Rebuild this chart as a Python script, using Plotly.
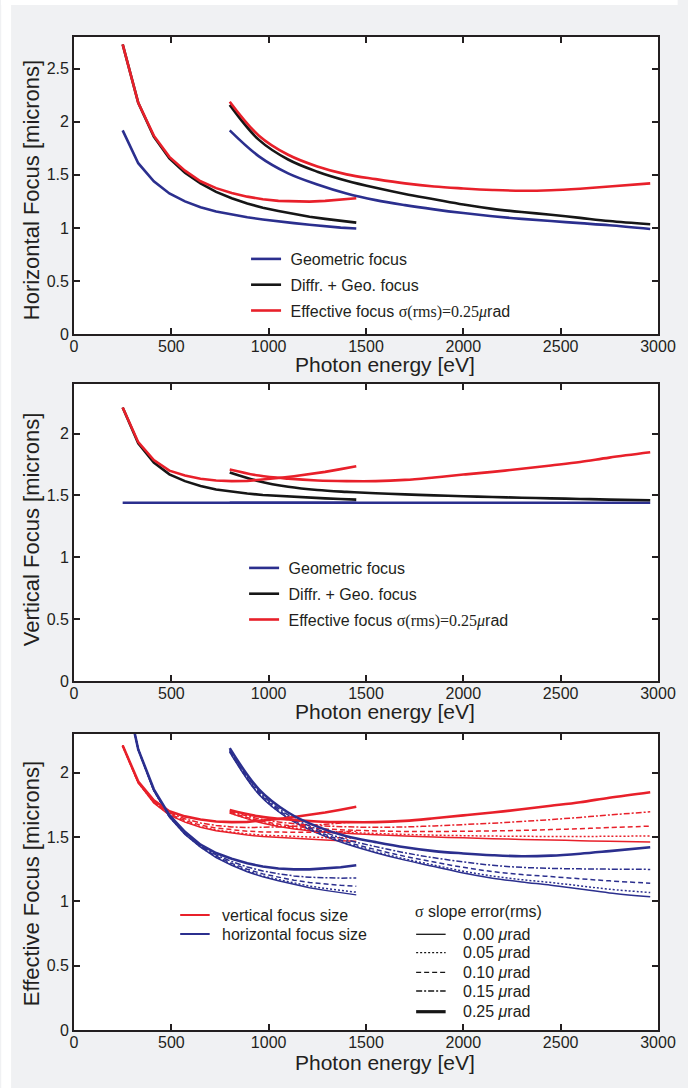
import plotly.graph_objects as go

# ---------------- data ----------------
E_A = [250, 330, 410, 490, 570, 650, 730, 810, 890, 970, 1050, 1130, 1210, 1290, 1370, 1450]
E_B = [800, 950, 1100, 1250, 1400, 1550, 1700, 1850, 2000, 2150, 2300, 2450, 2600, 2750, 2960]

# Horizontal focus [microns]
h_geo_A = [1.92, 1.61, 1.44, 1.325, 1.25, 1.195, 1.155, 1.125, 1.10, 1.08, 1.06, 1.045, 1.03, 1.015, 1.003, 0.995]
h_dg_A = [2.73, 2.18, 1.86, 1.655, 1.52, 1.42, 1.34, 1.28, 1.23, 1.19, 1.16, 1.13, 1.105, 1.085, 1.067, 1.05]
h_eff_A = [2.73, 2.18, 1.87, 1.67, 1.54, 1.44, 1.375, 1.33, 1.295, 1.27, 1.255, 1.248, 1.248, 1.255, 1.265, 1.28]
h_geo_B = [1.92, 1.675, 1.515, 1.41, 1.325, 1.262, 1.215, 1.175, 1.14, 1.11, 1.085, 1.065, 1.045, 1.025, 0.99]
h_dg_B = [2.16, 1.83, 1.645, 1.53, 1.445, 1.378, 1.32, 1.27, 1.22, 1.18, 1.15, 1.125, 1.095, 1.065, 1.035]
h_eff_B = [2.19, 1.87, 1.69, 1.58, 1.505, 1.46, 1.42, 1.39, 1.372, 1.358, 1.35, 1.355, 1.37, 1.39, 1.42]

# Vertical focus [microns]
v_geo_A = [1.44] * 16
v_dg_A = [2.21, 1.92, 1.765, 1.67, 1.615, 1.575, 1.548, 1.53, 1.515, 1.503, 1.495, 1.488, 1.481, 1.476, 1.471, 1.466]
v_eff_A = [2.21, 1.93, 1.785, 1.70, 1.66, 1.635, 1.62, 1.615, 1.617, 1.627, 1.64, 1.655, 1.67, 1.69, 1.712, 1.735]
v_geo_B = [1.44] * 15
v_dg_B = [1.685, 1.615, 1.57, 1.543, 1.528, 1.517, 1.508, 1.50, 1.493, 1.487, 1.481, 1.476, 1.471, 1.466, 1.46]
v_eff_B = [1.71, 1.66, 1.635, 1.62, 1.615, 1.615, 1.625, 1.645, 1.668, 1.69, 1.715, 1.742, 1.77, 1.805, 1.848]

# Effective focus for intermediate slope errors (0.05, 0.10, 0.15 urad)
h_s005_A = [2.73, 2.18, 1.861, 1.656, 1.522, 1.422, 1.343, 1.285, 1.236, 1.197, 1.169, 1.141, 1.118, 1.10, 1.085, 1.071]
h_s010_A = [2.73, 2.18, 1.863, 1.659, 1.526, 1.426, 1.350, 1.295, 1.249, 1.213, 1.188, 1.164, 1.146, 1.134, 1.124, 1.117]
h_s015_A = [2.73, 2.18, 1.866, 1.664, 1.531, 1.431, 1.36, 1.309, 1.267, 1.236, 1.214, 1.197, 1.187, 1.182, 1.18, 1.181]
h_s005_B = [2.163, 1.834, 1.649, 1.535, 1.450, 1.385, 1.329, 1.281, 1.234, 1.196, 1.168, 1.146, 1.120, 1.094, 1.068]
h_s010_B = [2.169, 1.842, 1.658, 1.545, 1.462, 1.402, 1.349, 1.305, 1.264, 1.231, 1.208, 1.192, 1.175, 1.159, 1.14]
h_s015_B = [2.177, 1.853, 1.671, 1.559, 1.479, 1.425, 1.377, 1.338, 1.306, 1.28, 1.264, 1.256, 1.252, 1.25, 1.248]
v_s005_A = [2.21, 1.921, 1.767, 1.673, 1.619, 1.580, 1.554, 1.538, 1.524, 1.514, 1.508, 1.503, 1.498, 1.495, 1.493, 1.490]
v_s010_A = [2.21, 1.923, 1.771, 1.679, 1.628, 1.592, 1.569, 1.555, 1.545, 1.539, 1.537, 1.536, 1.536, 1.538, 1.541, 1.544]
v_s015_A = [2.21, 1.926, 1.776, 1.687, 1.641, 1.609, 1.589, 1.578, 1.573, 1.574, 1.578, 1.583, 1.589, 1.598, 1.608, 1.619]
v_s005_B = [1.687, 1.619, 1.576, 1.550, 1.536, 1.527, 1.520, 1.514, 1.510, 1.507, 1.505, 1.504, 1.504, 1.505, 1.508]
v_s010_B = [1.692, 1.628, 1.589, 1.566, 1.554, 1.547, 1.543, 1.543, 1.544, 1.547, 1.551, 1.557, 1.564, 1.573, 1.584]
v_s015_B = [1.699, 1.641, 1.608, 1.589, 1.579, 1.575, 1.578, 1.586, 1.596, 1.607, 1.620, 1.635, 1.652, 1.671, 1.695]

x_ticks = [0, 500, 1000, 1500, 2000, 2500, 3000]
slope_labels = ["0.00", "0.05", "0.10", "0.15", "0.25"]

# ---------------- style ----------------
RED = "#e8202a"
BLUE = "#2b2f8e"
BLACK = "#161616"
TXT = "#231f20"
FONT = "Liberation Sans, Arial, sans-serif"
W, H = 688, 1088
ML, MR, MT, MB = 74, 20, 37, 58
PW = W - ML - MR
PH = H - MT - MB


def px(x):
    return (x - ML) / PW


def py(y):
    return (H - MB - y) / PH


fig = go.Figure()

main_w = 2.6
thin_w = 1.5
SIG = "<span style=\"font-family:'Liberation Serif'\">σ(rms)=0.25<i>μ</i></span>rad"
names = ["\u00a0Geometric focus", "\u00a0Diffr. + Geo. focus", "\u00a0Effective focus " + SIG]
cols = [BLUE, BLACK, RED]

panel1 = [(h_geo_A, h_geo_B), (h_dg_A, h_dg_B), (h_eff_A, h_eff_B)]
panel2 = [(v_geo_A, v_geo_B), (v_dg_A, v_dg_B), (v_eff_A, v_eff_B)]

for (ax, legend, data) in [("", "legend", panel1), ("2", "legend2", panel2)]:
    for i, (yA, yB) in enumerate(data):
        grp = legend + str(i)
        fig.add_trace(go.Scatter(x=E_A, y=yA, mode="lines", line=dict(color=cols[i], width=main_w),
                                 name=names[i], legend=legend, legendgroup=grp, showlegend=True,
                                 xaxis="x" + ax, yaxis="y" + ax))
        fig.add_trace(go.Scatter(x=E_B, y=yB, mode="lines", line=dict(color=cols[i], width=main_w, shape="spline"),
                                 name=names[i], legend=legend, legendgroup=grp, showlegend=False,
                                 xaxis="x" + ax, yaxis="y" + ax))

# panel 3
dashes = ["solid", "2px,2px", "5px,3px", "6px,2px,2px,2px", "solid"]
h3 = [(h_dg_A, h_dg_B), (h_s005_A, h_s005_B), (h_s010_A, h_s010_B), (h_s015_A, h_s015_B), (h_eff_A, h_eff_B)]
v3 = [(v_dg_A, v_dg_B), (v_s005_A, v_s005_B), (v_s010_A, v_s010_B), (v_s015_A, v_s015_B), (v_eff_A, v_eff_B)]
for k in range(5):
    wk = main_w if k == 4 else thin_w
    for (series, col) in [(v3[k], RED), (h3[k], BLUE)]:
        fig.add_trace(go.Scatter(x=E_A, y=series[0], mode="lines",
                                 line=dict(color=col, width=wk, dash=dashes[k]),
                                 showlegend=False, xaxis="x3", yaxis="y3"))
        fig.add_trace(go.Scatter(x=E_B, y=series[1], mode="lines",
                                 line=dict(color=col, width=wk, dash=dashes[k], shape="spline"),
                                 showlegend=False, xaxis="x3", yaxis="y3"))

axis_common = dict(showline=True, linecolor=TXT, linewidth=1.8, mirror="ticks", ticks="inside",
                   ticklen=6, tickwidth=1.5, tickcolor=TXT, showgrid=False, zeroline=False,
                   tickfont=dict(family=FONT, size=16, color=TXT))

doms = [[py(334), 1.0], [py(681), py(384)], [0.0, py(734)]]
yranges = [[0, 2.8], [0, 2.4], [0, 2.3]]
ytitles = ["Horizontal Focus [microns]", "Vertical Focus [microns]", "Effective Focus [microns]"]
ytitle_y = [190, 529, 884]
xtitle_y = [364, 711, 1062]

layout = dict(width=W, height=H, margin=dict(l=ML, r=MR, t=MT, b=MB),
              paper_bgcolor="#f0f1f3", plot_bgcolor="white",
              font=dict(family=FONT, size=16, color=TXT))
annotations = []
shapes = []
for i in range(3):
    s = "" if i == 0 else str(i + 1)
    layout["xaxis" + s] = dict(axis_common, domain=[0, 1], range=[0, 3000], tickvals=x_ticks,
                               anchor="y" + s, ticklabelstandoff=-3)
    layout["yaxis" + s] = dict(axis_common, domain=doms[i], range=yranges[i], dtick=0.5, tick0=0,
                               anchor="x" + s)
    annotations.append(dict(text=ytitles[i], x=px(30.5), y=py(ytitle_y[i]), xref="paper", yref="paper",
                            textangle=-90, showarrow=False, xanchor="center", yanchor="middle",
                            font=dict(family=FONT, size=22, color=TXT)))
    annotations.append(dict(text="Photon energy [eV]", x=px(390), y=py(xtitle_y[i]), xref="paper",
                            yref="paper", showarrow=False, xanchor="center", yanchor="middle",
                            font=dict(family=FONT, size=21, color=TXT)))

leg_common = dict(xanchor="left", yanchor="top", xref="paper", yref="paper", bgcolor="rgba(0,0,0,0)",
                  font=dict(family=FONT, size=16, color=TXT), traceorder="grouped", tracegroupgap=2)
layout["legend"] = dict(leg_common, x=px(249), y=py(242))
layout["legend2"] = dict(leg_common, x=px(247), y=py(551))

# manual legends for panel 3
for (yy, col, txt) in [(915, RED, "vertical focus size"), (934, BLUE, "horizontal focus size")]:
    shapes.append(dict(type="line", xref="paper", yref="paper", x0=px(182), x1=px(212), y0=py(yy), y1=py(yy),
                       line=dict(color=col, width=2)))
    annotations.append(dict(text=txt, x=px(222), y=py(yy), xref="paper", yref="paper", showarrow=False,
                            xanchor="left", yanchor="middle", font=dict(family=FONT, size=16, color=TXT)))

annotations.append(dict(text="<span style=\"font-family:'Liberation Serif'\">σ</span> slope error(rms)",
                        x=px(419), y=py(911.5), xref="paper", yref="paper", showarrow=False,
                        xanchor="left", yanchor="middle", font=dict(family=FONT, size=16, color=TXT)))
leg_y = [934.3, 952.7, 972.3, 991, 1011.7]
for k in range(5):
    shapes.append(dict(type="line", xref="paper", yref="paper", x0=px(422), x1=px(452), y0=py(leg_y[k]),
                       y1=py(leg_y[k]),
                       line=dict(color=BLACK, width=3.2 if k == 4 else 1.3, dash=dashes[k])))
    annotations.append(dict(text=slope_labels[k] + " <i>μ</i>rad", x=px(468), y=py(leg_y[k]), xref="paper",
                            yref="paper", showarrow=False, xanchor="left", yanchor="middle",
                            font=dict(family=FONT, size=16, color=TXT)))

# white strips around the grey background
shapes.append(dict(type="rect", xref="paper", yref="paper", x0=px(0), x1=px(10), y0=py(H), y1=py(0),
                   fillcolor="white", line=dict(width=0), layer="below"))
shapes.append(dict(type="rect", xref="paper", yref="paper", x0=px(0), x1=px(W), y0=py(5), y1=py(0),
                   fillcolor="white", line=dict(width=0), layer="below"))

layout["annotations"] = annotations
layout["shapes"] = shapes
fig.update_layout(**layout)

fig.write_html("out.html")
